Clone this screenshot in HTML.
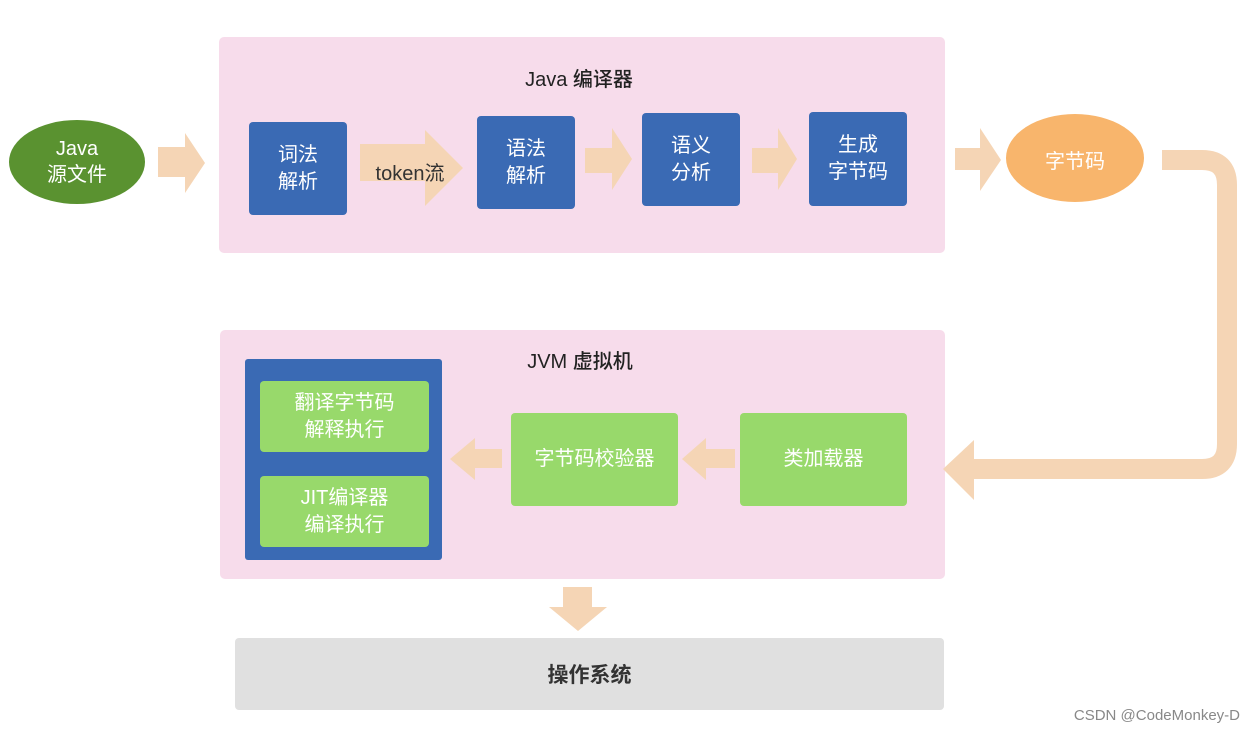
<!DOCTYPE html>
<html><head><meta charset="utf-8"><style>
body{margin:0;width:1254px;height:737px;background:#fff;position:relative;overflow:hidden;font-family:"Liberation Sans","Noto Sans CJK SC",sans-serif}
div{position:absolute;box-sizing:border-box}
.pink{background:#f7dceb;border-radius:5px}
.b{background:#3a6ab4;border-radius:4px;color:#fff;font-size:20px;line-height:27px;display:flex;align-items:center;justify-content:center;text-align:center}
.g{background:#98d96b;border-radius:4px;color:#fff;font-size:20px;line-height:27px;display:flex;align-items:center;justify-content:center;text-align:center}
.t{font-size:20px;color:#222;text-align:center;font-weight:500}
</style></head><body>
<div class="pink" style="left:219px;top:37px;width:726px;height:216px"></div>
<div class="t" style="left:479px;top:63px;width:200px">Java 编译器</div>
<div class="pink" style="left:220px;top:330px;width:725px;height:249px"></div>
<div class="t" style="left:480px;top:345px;width:200px">JVM 虚拟机</div>
<div style="left:235px;top:638px;width:709px;height:72px;background:#e0e0e0;border-radius:4px;font-size:21px;font-weight:bold;color:#333;display:flex;align-items:center;justify-content:center">操作系统</div>
<svg width="1254" height="737" style="position:absolute;left:0;top:0">
<g fill="#f5d5b5">
<polygon points="158,147 185,147 185,133 205,163 185,193 185,177 158,177"/>
<polygon points="360,144 425,144 425,130 463,168 425,206 425,181 360,181"/>
<polygon points="585,148 612,148 612,128 632,159 612,190 612,173 585,173"/>
<polygon points="752,148 778,148 778,128 797,159 778,190 778,173 752,173"/>
<polygon points="955,148 980,148 980,128 1001,160 980,191 980,170 955,170"/>
<polygon points="502,449 475,449 475,438 450,459 475,480 475,468 502,468"/>
<polygon points="735,449 706,449 706,438 682,459 706,480 706,468 735,468"/>
<polygon points="563,587 592,587 592,607 607,607 578,631 549,607 563,607"/>
<polygon points="974,459 974,440 943,469 974,500 974,479"/>
</g>
<path d="M1162,160 H1202 Q1227,160 1227,185 V444 Q1227,469 1202,469 H970" fill="none" stroke="#f5d5b5" stroke-width="20"/>
<ellipse cx="77" cy="162" rx="68" ry="42" fill="#5a9230"/>
<ellipse cx="1075" cy="158" rx="69" ry="44" fill="#f8b56c"/>
</svg>
<div style="left:9px;top:136px;width:136px;text-align:center;color:#fff;font-size:20px;line-height:26px">Java<br>源文件</div>
<div style="left:1006px;top:145px;width:138px;text-align:center;color:#fff;font-size:20px">字节码</div>
<div style="left:360px;top:157px;width:100px;text-align:center;color:#333;font-size:20px">token流</div>
<div class="b" style="left:249px;top:122px;width:98px;height:93px">词法<br>解析</div>
<div class="b" style="left:477px;top:116px;width:98px;height:93px">语法<br>解析</div>
<div class="b" style="left:642px;top:113px;width:98px;height:93px">语义<br>分析</div>
<div class="b" style="left:809px;top:112px;width:98px;height:94px">生成<br>字节码</div>
<div style="left:245px;top:359px;width:197px;height:201px;background:#3a6ab4;border-radius:3px"></div>
<div class="g" style="left:260px;top:381px;width:169px;height:71px">翻译字节码<br>解释执行</div>
<div class="g" style="left:260px;top:476px;width:169px;height:71px">JIT编译器<br>编译执行</div>
<div class="g" style="left:511px;top:413px;width:167px;height:93px">字节码校验器</div>
<div class="g" style="left:740px;top:413px;width:167px;height:93px">类加载器</div>
<div style="left:1040px;top:707px;width:200px;text-align:right;color:#888;font-size:15px">CSDN @CodeMonkey-D</div>
</body></html>
